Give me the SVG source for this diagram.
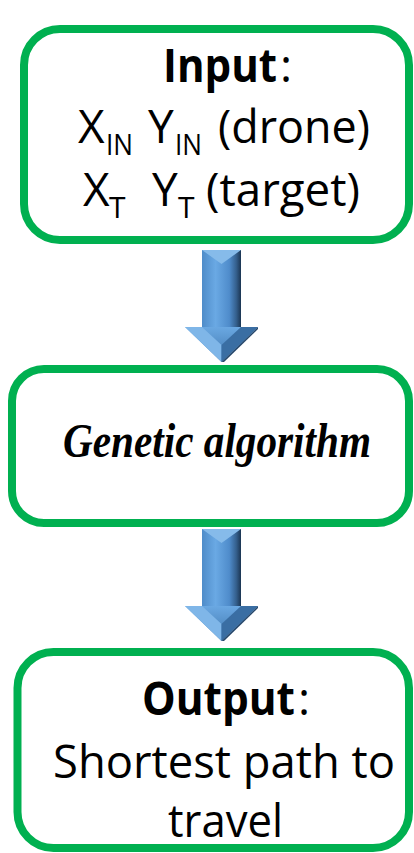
<svg xmlns="http://www.w3.org/2000/svg" width="414" height="853" viewBox="0 0 414 853">
  <style>
    .box { fill: #ffffff; stroke: #00b050; stroke-width: 8; }
    .t { font-family: "Open Sans", "Liberation Sans", sans-serif; font-size: 46px; fill: #000000; }
    .b { font-weight: bold; }
    .sub { font-size: 30px; }
    .script { font-family: "Liberation Serif", "DejaVu Serif", serif; font-style: italic; font-weight: bold; font-size: 48px; fill: #000000; }
  </style>
  <defs>
    <linearGradient id="shaftG" x1="0" y1="0" x2="1" y2="0">
      <stop offset="0" stop-color="#4f8cc9"/>
      <stop offset="0.35" stop-color="#6aa9e4"/>
      <stop offset="0.7" stop-color="#4f8ccb"/>
      <stop offset="0.88" stop-color="#345f8c"/>
      <stop offset="1" stop-color="#1b3552"/>
    </linearGradient>
    <linearGradient id="headG" x1="0" y1="0" x2="0" y2="1">
      <stop offset="0" stop-color="#6aa8e2"/>
      <stop offset="1" stop-color="#3f76ad"/>
    </linearGradient>
    <g id="arrow">
      <rect x="0" y="0" width="39" height="78" fill="url(#shaftG)"/>
      <polygon points="0,0 39,0 19.5,14" fill="#86bbea"/>
      <polygon points="-17,77 56,77 19.5,112" fill="url(#headG)"/>
      <polygon points="-17,77 0,77 19.5,95 19.5,112" fill="#7fb6e8"/>
      <polygon points="39,77 56,77 19.5,112 19.5,95" fill="#3a6ea3"/>
      <polygon points="56,77 19.5,112 22,112 56,79" fill="#24466b"/>
    </g>
  </defs>

  <g id="connectors">
    <use href="#arrow" transform="translate(202,250)"/>
    <use href="#arrow" transform="translate(202,529)"/>
  </g>

  <g id="node-input">
    <rect class="box" x="24" y="29" width="385" height="211" rx="36"/>
    <text class="t" x="163" y="82"><tspan class="b" textLength="114" lengthAdjust="spacingAndGlyphs">Input</tspan><tspan x="280">:</tspan></text>
    <text class="t" x="78" y="143">X</text>
    <text class="t sub" x="106" y="155" textLength="27" lengthAdjust="spacingAndGlyphs">IN</text>
    <text class="t" x="148" y="143">Y</text>
    <text class="t sub" x="175" y="155" textLength="27" lengthAdjust="spacingAndGlyphs">IN</text>
    <text class="t" x="218" y="143" textLength="152" lengthAdjust="spacingAndGlyphs">(drone)</text>
    <text class="t" x="83" y="206">X</text>
    <text class="t sub" x="109" y="218">T</text>
    <text class="t" x="152" y="206">Y</text>
    <text class="t sub" x="178" y="218">T</text>
    <text class="t" x="206" y="206" textLength="154" lengthAdjust="spacingAndGlyphs">(target)</text>
  </g>

  <g id="node-ga">
    <rect class="box" x="12" y="369" width="397" height="154" rx="32"/>
    <text class="script" x="63" y="457" textLength="308" lengthAdjust="spacingAndGlyphs">Genetic algorithm</text>
  </g>

  <g id="node-output">
    <rect class="box" x="17.5" y="652" width="391.5" height="196" rx="36"/>
    <text class="t" x="142" y="715"><tspan class="b" textLength="153" lengthAdjust="spacingAndGlyphs">Output</tspan><tspan x="298">:</tspan></text>
    <text class="t" x="53" y="778" textLength="342" lengthAdjust="spacingAndGlyphs">Shortest path to</text>
    <text class="t" x="168" y="837" textLength="115" lengthAdjust="spacingAndGlyphs">travel</text>
  </g>
</svg>
